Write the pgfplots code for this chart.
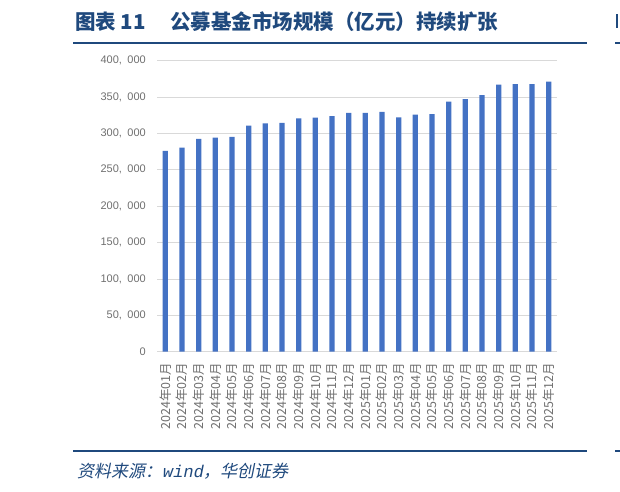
\documentclass[border=0pt]{standalone}
\usepackage{pgfplots}
\usepackage{pgfplotstable}
\pgfplotsset{compat=1.18}
\usepackage{fontspec}
\setmainfont{Liberation Sans}
\newfontfamily\cjk{Noto Sans CJK SC}
\newfontfamily\cjkslant{Noto Sans CJK SC}[FakeSlant=0.2]
\newfontfamily\monoslant{Liberation Mono}[FakeSlant=0.2]
\definecolor{barblue}{HTML}{4472C4}
\definecolor{navy}{HTML}{1F497D}
\definecolor{gridgray}{HTML}{D9D9D9}
\definecolor{labgray}{HTML}{6F6F6F}

% 公募基金规模, 亿元
\pgfplotstableread{
x val
0 276000
1 280500
2 292300
3 294100
4 295000
5 310500
6 313600
7 314500
8 320500
9 321400
10 323600
11 328200
12 328200
13 329500
14 321800
15 325500
16 326400
17 343600
18 346800
19 352300
20 366800
21 367700
22 367700
23 370900
}\fundsize

\begin{document}
\begin{tikzpicture}
\path[use as bounding box] (0pt,0pt) rectangle (620pt,-491pt);

% title and rules
\node[anchor=west, inner sep=0pt, text=navy,
      font=\cjk\bfseries\fontsize{20.5}{22}\selectfont]
  at (75pt,-22pt) {图表 11\hspace{1.2em}公募基金市场规模（亿元）持续扩张};
\draw[navy, line width=1.8pt] (73pt,-43pt) -- (587pt,-43pt);
\draw[navy, line width=1.8pt] (615pt,-43pt) -- (620pt,-43pt);
\draw[navy, line width=1.5pt] (617pt,-14pt) -- (617pt,-28pt);
\draw[navy, line width=1.8pt] (73pt,-451pt) -- (587pt,-451pt);
\draw[navy, line width=1.8pt] (615pt,-451pt) -- (620pt,-451pt);
\node[anchor=west, inner sep=0pt, text=navy,
      font=\cjkslant\fontsize{17}{19}\selectfont]
  at (77pt,-471pt) {资料来源：{\monoslant wind}，华创证券};

\begin{axis}[
    at={(157pt,-351.7pt)}, anchor=south west,
    scale only axis,
    width=400pt, height=291.2pt,
    ybar, bar width=5.3pt, bar shift=0pt,
    xmin=-0.5, xmax=23.5,
    ymin=0, ymax=400000,
    ytick={0,50000,...,400000},
    scaled y ticks=false,
    ymajorgrids,
    grid style={gridgray, line width=0.8pt},
    axis x line*=bottom,
    axis y line*=left,
    x axis line style={gridgray, line width=0.8pt},
    y axis line style={draw=none},
    major tick length=0pt,
    xtick=data,
    xticklabels={2024年01月,2024年02月,2024年03月,2024年04月,2024年05月,2024年06月,
      2024年07月,2024年08月,2024年09月,2024年10月,2024年11月,2024年12月,
      2025年01月,2025年02月,2025年03月,2025年04月,2025年05月,2025年06月,
      2025年07月,2025年08月,2025年09月,2025年10月,2025年11月,2025年12月},
    xticklabel style={rotate=90, anchor=east, inner sep=0pt, text=labgray,
      font=\cjk\fontsize{12.5}{13}\selectfont},
    xticklabel shift=11pt,
    yticklabel style={anchor=east, inner sep=0pt, text=labgray,
      font=\fontsize{11}{12}\selectfont},
    yticklabel shift=11pt,
    /pgf/number format/.cd, fixed, 1000 sep={,\hspace{0.5em}}, assume math mode=true,
]
\addplot[fill=barblue, draw=none] table[x=x, y=val] {\fundsize};
\end{axis}
\end{tikzpicture}
\end{document}
